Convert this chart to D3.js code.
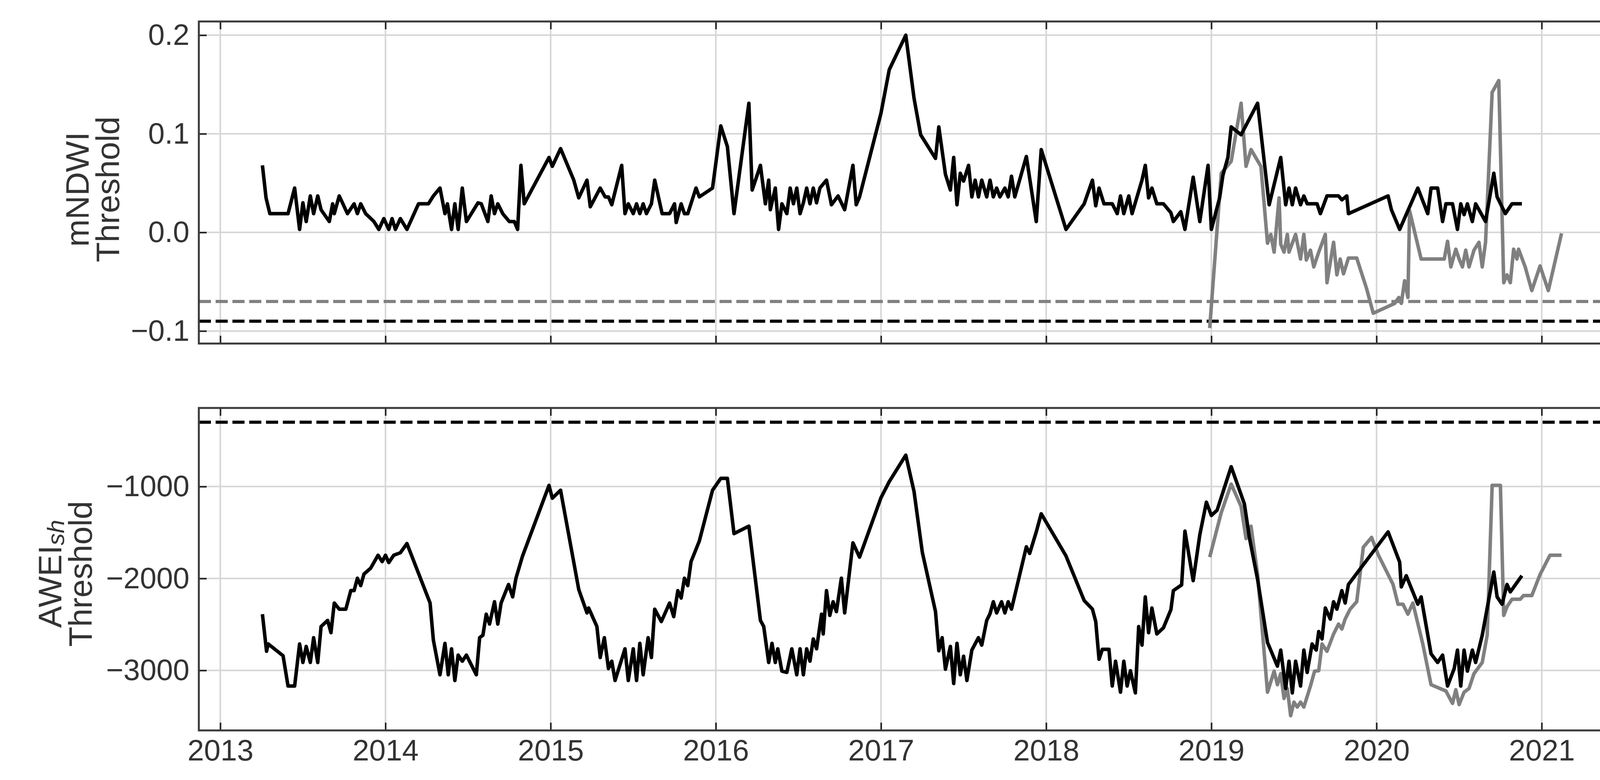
<!DOCTYPE html>
<html><head><meta charset="utf-8">
<script src="https://cdn.jsdelivr.net/npm/d3@7"></script>
<style>body{margin:0;background:#fff;overflow:hidden}svg{display:block}</style>
</head><body>
<svg id="c" width="4214" height="1998"></svg>
<script>
const yearTicks=[2013,2014,2015,2016,2017,2018,2019,2020,2021];
const mndwiTicks=[-0.1,0.0,0.1,0.2];
const aweiTicks=[-3000,-2000,-1000];
const mndwiThrBlack=-0.09, mndwiThrGray=-0.07, aweiThrBlack=-300;

const mndwiBlack=[[2013.255,0.068],[2013.277,0.035],[2013.30,0.019],[2013.41,0.019],[2013.45,0.045],[2013.48,0.003],[2013.50,0.03],[2013.52,0.011],[2013.545,0.037],[2013.565,0.019],[2013.59,0.037],[2013.61,0.023],[2013.66,0.011],[2013.68,0.029],[2013.69,0.019],[2013.72,0.037],[2013.77,0.019],[2013.81,0.029],[2013.83,0.019],[2013.85,0.029],[2013.88,0.019],[2013.93,0.011],[2013.96,0.003],[2013.99,0.014],[2014.02,0.003],[2014.04,0.014],[2014.06,0.003],[2014.09,0.014],[2014.13,0.003],[2014.20,0.029],[2014.26,0.029],[2014.29,0.037],[2014.33,0.045],[2014.36,0.019],[2014.375,0.029],[2014.40,0.003],[2014.42,0.029],[2014.44,0.003],[2014.465,0.045],[2014.49,0.011],[2014.56,0.03],[2014.58,0.029],[2014.62,0.011],[2014.64,0.037],[2014.66,0.019],[2014.68,0.029],[2014.71,0.019],[2014.75,0.011],[2014.78,0.011],[2014.80,0.003],[2014.82,0.068],[2014.84,0.029],[2014.99,0.076],[2015.01,0.067],[2015.06,0.085],[2015.14,0.053],[2015.17,0.035],[2015.22,0.053],[2015.24,0.026],[2015.30,0.045],[2015.33,0.036],[2015.35,0.036],[2015.37,0.028],[2015.43,0.068],[2015.45,0.019],[2015.47,0.029],[2015.50,0.019],[2015.52,0.029],[2015.54,0.019],[2015.56,0.029],[2015.58,0.019],[2015.61,0.029],[2015.63,0.053],[2015.675,0.019],[2015.72,0.019],[2015.75,0.029],[2015.76,0.010],[2015.79,0.029],[2015.81,0.019],[2015.83,0.019],[2015.88,0.045],[2015.90,0.036],[2015.98,0.045],[2016.03,0.108],[2016.07,0.087],[2016.11,0.019],[2016.20,0.131],[2016.22,0.043],[2016.27,0.068],[2016.30,0.029],[2016.32,0.053],[2016.33,0.023],[2016.36,0.045],[2016.38,0.003],[2016.40,0.029],[2016.43,0.019],[2016.45,0.045],[2016.47,0.029],[2016.49,0.045],[2016.51,0.019],[2016.53,0.03],[2016.55,0.045],[2016.57,0.029],[2016.59,0.045],[2016.61,0.03],[2016.63,0.045],[2016.67,0.053],[2016.70,0.028],[2016.74,0.037],[2016.78,0.023],[2016.83,0.068],[2016.85,0.028],[2016.87,0.036],[2017.00,0.121],[2017.05,0.165],[2017.15,0.20],[2017.20,0.136],[2017.24,0.099],[2017.33,0.075],[2017.35,0.107],[2017.39,0.059],[2017.42,0.043],[2017.44,0.076],[2017.46,0.028],[2017.48,0.060],[2017.50,0.052],[2017.53,0.068],[2017.55,0.036],[2017.57,0.053],[2017.59,0.036],[2017.61,0.053],[2017.64,0.036],[2017.66,0.053],[2017.68,0.036],[2017.70,0.045],[2017.72,0.036],[2017.75,0.045],[2017.77,0.036],[2017.79,0.057],[2017.81,0.036],[2017.88,0.077],[2017.94,0.011],[2017.97,0.084],[2018.12,0.003],[2018.23,0.029],[2018.28,0.053],[2018.30,0.027],[2018.32,0.045],[2018.35,0.029],[2018.40,0.029],[2018.43,0.019],[2018.45,0.037],[2018.47,0.019],[2018.50,0.037],[2018.52,0.019],[2018.58,0.053],[2018.60,0.068],[2018.62,0.035],[2018.64,0.045],[2018.67,0.029],[2018.71,0.029],[2018.755,0.020],[2018.77,0.011],[2018.815,0.021],[2018.84,0.003],[2018.89,0.056],[2018.93,0.011],[2018.98,0.068],[2019.00,0.003],[2019.05,0.035],[2019.07,0.058],[2019.10,0.076],[2019.12,0.107],[2019.18,0.099],[2019.28,0.131],[2019.35,0.028],[2019.42,0.076],[2019.45,0.028],[2019.47,0.045],[2019.49,0.028],[2019.51,0.045],[2019.54,0.028],[2019.56,0.037],[2019.58,0.029],[2019.64,0.029],[2019.66,0.019],[2019.70,0.037],[2019.77,0.037],[2019.79,0.033],[2019.82,0.037],[2019.83,0.019],[2020.07,0.037],[2020.09,0.023],[2020.14,0.003],[2020.25,0.045],[2020.31,0.019],[2020.33,0.045],[2020.37,0.045],[2020.40,0.011],[2020.42,0.029],[2020.46,0.029],[2020.49,0.003],[2020.51,0.029],[2020.53,0.018],[2020.55,0.029],[2020.58,0.011],[2020.60,0.029],[2020.66,0.011],[2020.71,0.060],[2020.73,0.036],[2020.78,0.019],[2020.82,0.029],[2020.88,0.029]];

const mndwiGray=[[2018.99,-0.097],[2019.06,0.060],[2019.12,0.072],[2019.18,0.131],[2019.21,0.067],[2019.24,0.084],[2019.30,0.067],[2019.34,-0.011],[2019.36,-0.002],[2019.38,-0.020],[2019.41,0.035],[2019.42,-0.012],[2019.44,-0.020],[2019.46,-0.002],[2019.47,-0.020],[2019.49,-0.011],[2019.51,-0.002],[2019.54,-0.027],[2019.56,-0.002],[2019.575,-0.028],[2019.60,-0.018],[2019.62,-0.035],[2019.65,-0.020],[2019.69,-0.002],[2019.70,-0.051],[2019.74,-0.010],[2019.76,-0.043],[2019.78,-0.027],[2019.80,-0.042],[2019.83,-0.026],[2019.88,-0.026],[2019.94,-0.057],[2019.98,-0.082],[2020.11,-0.072],[2020.135,-0.066],[2020.15,-0.072],[2020.17,-0.049],[2020.19,-0.066],[2020.20,0.022],[2020.27,-0.027],[2020.41,-0.027],[2020.43,-0.009],[2020.45,-0.035],[2020.48,-0.017],[2020.50,-0.027],[2020.52,-0.035],[2020.54,-0.018],[2020.56,-0.035],[2020.59,-0.018],[2020.62,-0.010],[2020.64,-0.035],[2020.66,-0.010],[2020.70,0.142],[2020.74,0.154],[2020.77,-0.051],[2020.79,-0.043],[2020.81,-0.051],[2020.83,-0.017],[2020.85,-0.027],[2020.86,-0.017],[2020.90,-0.035],[2020.94,-0.059],[2020.99,-0.034],[2021.04,-0.059],[2021.12,-0.001]];

const aweiBlack=[[2013.255,-2388],[2013.28,-2792],[2013.29,-2712],[2013.38,-2841],[2013.41,-3170],[2013.45,-3170],[2013.48,-2712],[2013.50,-2914],[2013.52,-2739],[2013.545,-2914],[2013.565,-2644],[2013.59,-2914],[2013.61,-2523],[2013.65,-2456],[2013.67,-2590],[2013.69,-2267],[2013.72,-2334],[2013.76,-2334],[2013.79,-2132],[2013.81,-2132],[2013.83,-1997],[2013.85,-2078],[2013.87,-1951],[2013.91,-1889],[2013.955,-1747],[2013.98,-1817],[2014.00,-1747],[2014.02,-1827],[2014.05,-1747],[2014.09,-1720],[2014.13,-1620],[2014.27,-2267],[2014.29,-2671],[2014.33,-3048],[2014.36,-2706],[2014.38,-3048],[2014.40,-2765],[2014.42,-3110],[2014.44,-2833],[2014.465,-2900],[2014.49,-2833],[2014.55,-3048],[2014.57,-2644],[2014.59,-2617],[2014.61,-2388],[2014.63,-2496],[2014.66,-2253],[2014.68,-2496],[2014.70,-2267],[2014.745,-2065],[2014.77,-2200],[2014.79,-1997],[2014.83,-1755],[2014.99,-987],[2015.01,-1127],[2015.06,-1040],[2015.17,-2119],[2015.22,-2375],[2015.23,-2321],[2015.28,-2523],[2015.30,-2860],[2015.325,-2644],[2015.35,-2981],[2015.37,-2900],[2015.39,-3110],[2015.45,-2765],[2015.47,-3110],[2015.50,-2765],[2015.52,-3110],[2015.54,-2706],[2015.56,-3048],[2015.59,-2644],[2015.61,-2860],[2015.63,-2334],[2015.67,-2469],[2015.72,-2267],[2015.745,-2415],[2015.77,-2132],[2015.79,-2213],[2015.81,-1997],[2015.83,-2078],[2015.85,-1817],[2015.90,-1593],[2015.98,-1040],[2016.03,-911],[2016.07,-911],[2016.11,-1512],[2016.20,-1431],[2016.27,-2456],[2016.29,-2523],[2016.32,-2914],[2016.34,-2706],[2016.36,-2914],[2016.375,-2765],[2016.40,-3008],[2016.43,-3022],[2016.46,-2765],[2016.49,-3048],[2016.51,-2765],[2016.53,-3048],[2016.55,-2765],[2016.57,-2900],[2016.59,-2658],[2016.61,-2765],[2016.64,-2388],[2016.65,-2604],[2016.67,-2132],[2016.69,-2402],[2016.71,-2253],[2016.73,-2361],[2016.76,-1997],[2016.78,-2375],[2016.83,-1612],[2016.87,-1768],[2017.00,-1121],[2017.05,-946],[2017.15,-658],[2017.20,-1054],[2017.25,-1714],[2017.33,-2361],[2017.35,-2787],[2017.37,-2644],[2017.39,-2987],[2017.42,-2739],[2017.44,-3143],[2017.46,-2706],[2017.48,-3048],[2017.50,-2846],[2017.52,-3110],[2017.55,-2779],[2017.59,-2644],[2017.61,-2725],[2017.64,-2456],[2017.66,-2383],[2017.68,-2253],[2017.70,-2375],[2017.73,-2253],[2017.75,-2375],[2017.77,-2253],[2017.79,-2334],[2017.88,-1655],[2017.90,-1728],[2017.94,-1493],[2017.97,-1296],[2018.12,-1755],[2018.23,-2240],[2018.28,-2334],[2018.30,-2469],[2018.32,-2879],[2018.34,-2771],[2018.38,-2771],[2018.40,-3170],[2018.42,-2900],[2018.45,-3237],[2018.47,-2900],[2018.49,-3170],[2018.51,-3003],[2018.54,-3245],[2018.56,-2523],[2018.58,-2725],[2018.60,-2200],[2018.62,-2590],[2018.64,-2321],[2018.67,-2604],[2018.71,-2536],[2018.755,-2340],[2018.77,-2132],[2018.82,-2070],[2018.84,-1485],[2018.89,-2024],[2018.93,-1526],[2018.97,-1170],[2019.00,-1315],[2019.035,-1256],[2019.12,-784],[2019.20,-1189],[2019.23,-1553],[2019.28,-2011],[2019.34,-2698],[2019.35,-2739],[2019.40,-2954],[2019.42,-2779],[2019.45,-3197],[2019.47,-2900],[2019.49,-3245],[2019.51,-2900],[2019.54,-3170],[2019.56,-2779],[2019.58,-3022],[2019.61,-2712],[2019.635,-2779],[2019.65,-2577],[2019.67,-2658],[2019.69,-2321],[2019.72,-2442],[2019.74,-2253],[2019.76,-2334],[2019.79,-2132],[2019.81,-2267],[2019.83,-2065],[2020.07,-1493],[2020.14,-1822],[2020.15,-2092],[2020.18,-1970],[2020.25,-2280],[2020.27,-2200],[2020.33,-2819],[2020.37,-2914],[2020.40,-2833],[2020.43,-3170],[2020.47,-2981],[2020.49,-2779],[2020.51,-3170],[2020.53,-2779],[2020.55,-3008],[2020.58,-2779],[2020.60,-2914],[2020.64,-2617],[2020.71,-1930],[2020.73,-2200],[2020.76,-2280],[2020.79,-2065],[2020.81,-2146],[2020.88,-1970]];

const aweiGray=[[2018.99,-1768],[2019.06,-1283],[2019.12,-973],[2019.18,-1216],[2019.21,-1566],[2019.24,-1431],[2019.28,-1957],[2019.34,-3237],[2019.38,-3008],[2019.40,-3156],[2019.42,-3035],[2019.44,-3305],[2019.46,-3197],[2019.48,-3493],[2019.50,-3345],[2019.52,-3399],[2019.54,-3345],[2019.56,-3399],[2019.60,-3170],[2019.625,-3008],[2019.65,-3003],[2019.67,-2712],[2019.70,-2792],[2019.74,-2604],[2019.77,-2496],[2019.79,-2550],[2019.81,-2442],[2019.84,-2334],[2019.88,-2253],[2019.92,-1660],[2019.97,-1553],[2020.01,-1741],[2020.10,-2065],[2020.13,-2280],[2020.16,-2280],[2020.19,-2388],[2020.22,-2267],[2020.28,-2712],[2020.33,-3156],[2020.42,-3224],[2020.46,-3359],[2020.48,-3210],[2020.50,-3372],[2020.53,-3237],[2020.56,-3197],[2020.59,-3035],[2020.64,-2914],[2020.67,-2617],[2020.70,-987],[2020.75,-987],[2020.77,-2402],[2020.79,-2307],[2020.82,-2226],[2020.87,-2226],[2020.89,-2186],[2020.94,-2186],[2020.99,-1957],[2021.05,-1747],[2021.12,-1747]];

const svg=d3.select("#c");
const L=509,R=4162;
const x=d3.scaleLinear().domain([2012.870,2021.509]).range([L,R]);
const FONT="'Liberation Sans', Arial, sans-serif";
const TC="#333";

function panel(top,bottom,ydom,yticks,fmt,showX,series,thrs,labelFn){
  const y=d3.scaleLinear().domain(ydom).range([bottom,top]);
  const g=svg.append("g");
  g.selectAll(".gx").data(yearTicks).join("line").attr("x1",d=>x(d)).attr("x2",d=>x(d)).attr("y1",top).attr("y2",bottom).attr("stroke","#d6d6d6").attr("stroke-width",4);
  g.selectAll(".gy").data(yticks).join("line").attr("x1",L).attr("x2",R).attr("y1",d=>y(d)).attr("y2",d=>y(d)).attr("stroke","#d6d6d6").attr("stroke-width",4);
  thrs.forEach(t=>g.append("line").attr("x1",L).attr("x2",R).attr("y1",y(t.v)).attr("y2",y(t.v)).attr("stroke",t.c).attr("stroke-width",8).attr("stroke-dasharray","31,12"));
  const line=d3.line().x(d=>x(d[0])).y(d=>y(d[1]));
  series.forEach(s=>g.append("path").datum(s.d).attr("d",line).attr("fill","none").attr("stroke",s.c).attr("stroke-width",9).attr("stroke-linejoin","round"));
  const ax=(a)=>a.tickSizeInner(-20).tickSizeOuter(0).tickPadding(24);
  g.append("g").attr("class","xb").attr("transform",`translate(0,${bottom})`).call(ax(d3.axisBottom(x).tickValues(yearTicks).tickFormat(showX?d3.format("d"):"")));
  g.append("g").attr("transform",`translate(0,${top})`).call(ax(d3.axisTop(x).tickValues(yearTicks).tickFormat("")));
  g.append("g").attr("transform",`translate(${L},0)`).call(ax(d3.axisLeft(y).tickValues(yticks).tickFormat(fmt)));
  g.append("g").attr("transform",`translate(${R},0)`).call(ax(d3.axisRight(y).tickValues(yticks).tickFormat("")));
  g.selectAll(".domain").remove();
  g.selectAll(".tick line").attr("stroke","#222").attr("stroke-width",4);
  g.selectAll(".tick text").attr("font-family",FONT).attr("font-size",76).attr("fill",TC);
  g.selectAll(".xb .tick text").attr("dy",null).attr("y",null).attr("dominant-baseline","central").attr("transform","translate(0,50)");
  g.append("rect").attr("x",L).attr("y",top).attr("width",R-L).attr("height",bottom-top).attr("fill","none").attr("stroke","#3a3a3a").attr("stroke-width",5);
  labelFn(g);
}
const minus=v=>(v<0?"\u2212":"");
function ylabel(g,cy,x1,x2,first){
  const t=g.append("text").attr("transform",`translate(0,${cy}) rotate(-90)`).attr("text-anchor","middle").attr("font-family",FONT).attr("font-size",84).attr("fill",TC).attr("dominant-baseline","central");
  const a=t.append("tspan").attr("x",0).attr("y",x1);
  first(a);
  t.append("tspan").attr("x",0).attr("y",x2).text("Threshold");
}
panel(55,880,[-0.1127,0.2139],mndwiTicks,d=>minus(d)+Math.abs(d).toFixed(1),false,
  [{d:mndwiGray,c:"#808080"},{d:mndwiBlack,c:"#000"}],
  [{v:mndwiThrGray,c:"#808080"},{v:mndwiThrBlack,c:"#000"}],
  g=>ylabel(g,485,198,276,a=>a.text("mNDWI")));
panel(1045,1871,[-3653,-145],aweiTicks,d=>minus(d)+Math.abs(d),true,
  [{d:aweiGray,c:"#808080"},{d:aweiBlack,c:"#000"}],
  [{v:aweiThrBlack,c:"#000"}],
  g=>ylabel(g,1470,128,206,a=>{a.append("tspan").text("AWEI");a.append("tspan").attr("font-style","italic").attr("font-size",62).attr("dy",14).text("sh");}));
</script>
</body></html>
